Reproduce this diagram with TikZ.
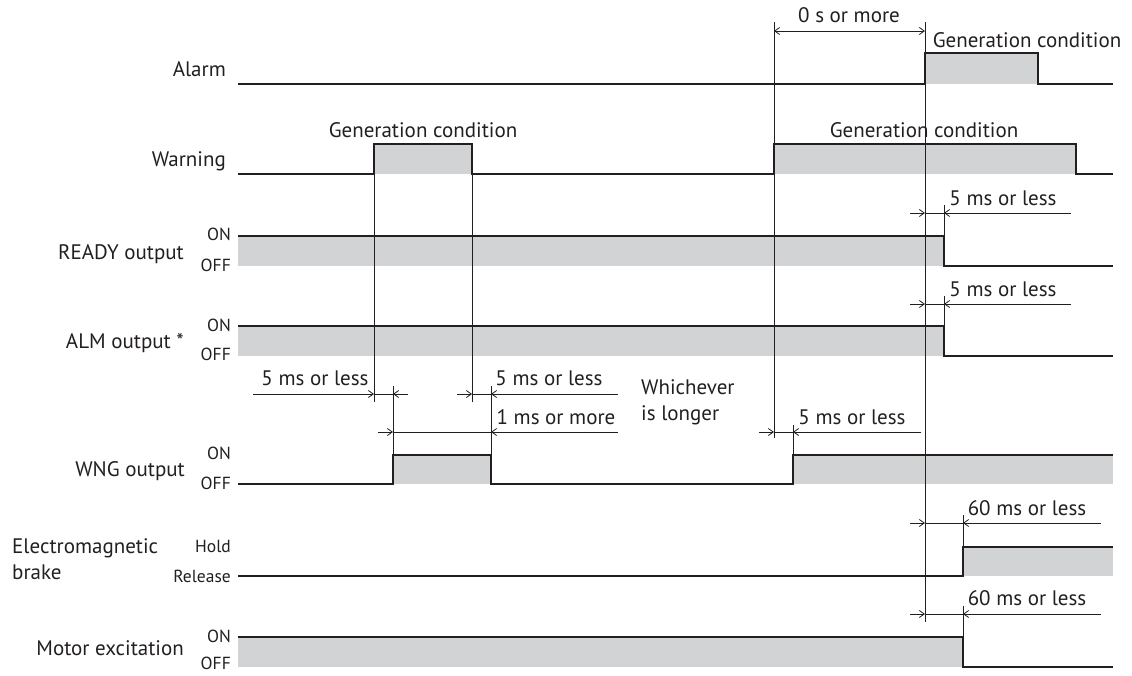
\documentclass[tikz,border=0pt]{standalone}
\usepackage{fontspec}
\setmainfont{PT Sans}
\usetikzlibrary{arrows.meta}
\definecolor{ink}{HTML}{231F20}
\definecolor{sigfill}{HTML}{D1D3D4}
\begin{document}
\begin{tikzpicture}[x=1pt,y=-1pt,
  sig/.style={draw=ink,line width=1.3pt,line join=miter},
  hi/.style={fill=sigfill,draw=none},
  thin/.style={draw=ink,line width=0.8pt},
  dim/.style={thin,-{Straight Barb[length=5pt,width=7pt]}},
  dimboth/.style={thin,{Straight Barb[length=5pt,width=7pt]}-{Straight Barb[length=5pt,width=7pt]}},
  lbl/.style={text=ink,font=\fontsize{21}{23}\selectfont,inner sep=0pt},
  lvl/.style={text=ink,font=\fontsize{17.5}{19}\selectfont,inner sep=0pt},
]
\useasboundingbox (0,0) rectangle (1132,675);

% ---------- shaded high levels ----------
\path[hi] (925,53) rectangle (1038,84);
\path[hi] (374,144) rectangle (472,174);
\path[hi] (774,144) rectangle (1076,174);
\path[hi] (238,236) rectangle (944,266);
\path[hi] (238,326) rectangle (944,356);
\path[hi] (393,455) rectangle (491,484);
\path[hi] (793,455) rectangle (1113,484);
\path[hi] (963,547) rectangle (1113,576);
\path[hi] (238,637) rectangle (963,667);

% ---------- signal traces ----------
\draw[sig] (238,84) -- (925,84) -- (925,53) -- (1038,53) -- (1038,84) -- (1113,84);
\draw[sig] (238,174) -- (374,174) -- (374,144) -- (472,144) -- (472,174) -- (774,174)
           -- (774,144) -- (1076,144) -- (1076,174) -- (1113,174);
\draw[sig] (238,236) -- (944,236) -- (944,266) -- (1113,266);
\draw[sig] (238,326) -- (944,326) -- (944,356) -- (1113,356);
\draw[sig] (238,484) -- (393,484) -- (393,455) -- (491,455) -- (491,484) -- (793,484)
           -- (793,455) -- (1113,455);
\draw[sig] (238,576) -- (963,576) -- (963,547) -- (1113,547);
\draw[sig] (238,637) -- (963,637) -- (963,667) -- (1113,667);

% ---------- reference lines ----------
\draw[thin] (774,22) -- (774,438);
\draw[thin] (925,22) -- (925,622);
\draw[thin] (374,144) -- (374,402);
\draw[thin] (472,174) -- (472,402);
\draw[thin] (393,386) -- (393,455);
\draw[thin] (491,386) -- (491,455);
\draw[thin] (793,425) -- (793,455);
\draw[thin] (944,205) -- (944,236);
\draw[thin] (944,296) -- (944,326);
\draw[thin] (963,515) -- (963,547);
\draw[thin] (963,606) -- (963,637);

% ---------- dimension arrows ----------
\draw[dimboth] (774,31) -- (925,31);

\draw[dim] (253,394) -- (374,394);
\draw[thin] (374,394) -- (393,394);
\draw[dim] (408,394) -- (393,394);
\draw[dim] (457,394) -- (472,394);
\draw[thin] (472,394) -- (491,394);
\draw[dim] (618,394) -- (491,394);

\draw[dim] (378,432) -- (393,432);
\draw[thin] (393,432) -- (491,432);
\draw[dim] (618,432) -- (491,432);

\draw[dim] (759,432) -- (774,432);
\draw[thin] (774,432) -- (793,432);
\draw[dim] (921,432) -- (793,432);

\draw[dim] (910,213) -- (925,213);
\draw[thin] (925,213) -- (944,213);
\draw[dim] (1071,213) -- (944,213);

\draw[dim] (910,304) -- (925,304);
\draw[thin] (925,304) -- (944,304);
\draw[dim] (1071,304) -- (944,304);

\draw[dim] (910,523) -- (925,523);
\draw[thin] (925,523) -- (963,523);
\draw[dim] (1101,523) -- (963,523);

\draw[dim] (910,614) -- (925,614);
\draw[thin] (925,614) -- (963,614);
\draw[dim] (1101,614) -- (963,614);

% ---------- annotation texts ----------
\node[lbl,anchor=base] (t0s)   at (849,22)   {0 s or more};
\node[lbl,anchor=base] (gcA)   at (1027,47)  {Generation condition};
\node[lbl,anchor=base] (gcW1)  at (423,137)  {Generation condition};
\node[lbl,anchor=base] (gcW2)  at (924,137)  {Generation condition};
\node[lbl,anchor=base] (rdy5)  at (1003,205) {5 ms or less};
\node[lbl,anchor=base] (alm5)  at (1003,296) {5 ms or less};
\node[lbl,anchor=base] (w5a)   at (315,385)  {5 ms or less};
\node[lbl,anchor=base] (w5b)   at (549,385)  {5 ms or less};
\node[lbl,anchor=base] (w1ms)  at (556,424)  {1 ms or more};
\node[lbl,anchor=base west] (wh1) at (641,394) {Whichever};
\node[lbl,anchor=base west] (wh2) at (641,420) {is longer};
\node[lbl,anchor=base] (w5c)   at (852,424)  {5 ms or less};
\node[lbl,anchor=base] (brk60) at (1027,515) {60 ms or less};
\node[lbl,anchor=base] (mot60) at (1027,605) {60 ms or less};

% ---------- signal names ----------
\node[lbl,anchor=base east] (nAlarm) at (226,76)  {Alarm};
\node[lbl,anchor=base east] (nWarn)  at (226,166) {Warning};
\node[lbl,anchor=base east] (nRdy)   at (184,259) {READY output};
\node[lbl,anchor=base east] (nAlm)   at (184,348) {ALM output *};
\node[lbl,anchor=base east] (nWng)   at (185,476) {WNG output};
\node[lbl,anchor=base west] (nBrk1)  at (12,553)  {Electromagnetic};
\node[lbl,anchor=base west] (nBrk2)  at (12,579)  {brake};
\node[lbl,anchor=base east] (nMot)   at (184,655) {Motor excitation};

% ---------- level names ----------
\node[lvl,anchor=base east] (rdyOn)  at (231,240) {ON};
\node[lvl,anchor=base east] (rdyOff) at (231,271) {OFF};
\node[lvl,anchor=base east] (almOn)  at (231,331) {ON};
\node[lvl,anchor=base east] (almOff) at (231,360) {OFF};
\node[lvl,anchor=base east] (wngOn)  at (231,459) {ON};
\node[lvl,anchor=base east] (wngOff) at (231,489) {OFF};
\node[lvl,anchor=base east] (brkH)   at (231,552) {Hold};
\node[lvl,anchor=base east] (brkR)   at (231,582) {Release};
\node[lvl,anchor=base east] (motOn)  at (231,642) {ON};
\node[lvl,anchor=base east] (motOff) at (231,669) {OFF};
\end{tikzpicture}
\end{document}
